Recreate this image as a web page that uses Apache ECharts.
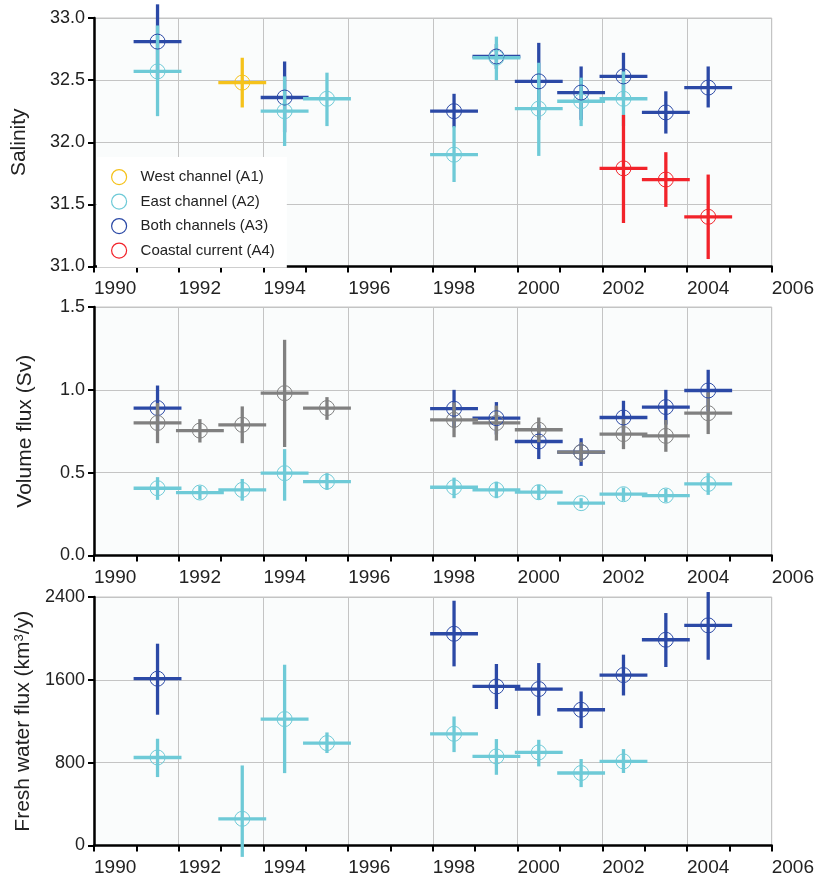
<!DOCTYPE html>
<html><head><meta charset="utf-8">
<script src="https://cdn.jsdelivr.net/npm/echarts@6/dist/echarts.min.js"></script>
<style>html,body{margin:0;padding:0;background:#fff}#c{width:817px;height:878px}</style>
</head><body><div id="c"></div>
<script>
// ---------- data (year of each estimate, value, lower and upper bound) ----------
const xTickYears = [1990, 2006];
const salinityTicks = [31.0, 33.0];
const volumeTicks = [0.0, 1.5];
const freshTicks = [0, 2400];

const salA1Years = [1993];
const salA1Vals  = [32.48];
const salA1Lo    = [32.28];
const salA1Hi    = [32.68];

const salA2Years = [1991, 1994, 1995, 1998, 1999, 2000, 2001, 2002];
const salA2Vals  = [32.57, 32.25, 32.35, 31.90, 32.68, 32.27, 32.33, 32.35];
const salA2Lo    = [32.21, 31.97, 32.13, 31.68, 32.50, 31.89, 32.13, 32.13];
const salA2Hi    = [32.94, 32.53, 32.56, 32.13, 32.85, 32.64, 32.52, 32.57];

const salA3Years = [1991, 1994, 1998, 1999, 2000, 2001, 2002, 2003, 2004];
const salA3Vals  = [32.81, 32.36, 32.25, 32.69, 32.49, 32.40, 32.53, 32.24, 32.44];
const salA3Lo    = [32.51, 32.08, 32.12, 32.59, 32.18, 32.18, 32.35, 32.07, 32.28];
const salA3Hi    = [33.11, 32.65, 32.39, 32.79, 32.80, 32.61, 32.72, 32.41, 32.61];

const salA4Years = [2002, 2003, 2004];
const salA4Vals  = [31.79, 31.70, 31.40];
const salA4Lo    = [31.35, 31.48, 31.06];
const salA4Hi    = [32.22, 31.92, 31.74];

const volA3Years = [1991, 1998, 1999, 2000, 2001, 2002, 2003, 2004];
const volA3Vals  = [0.890, 0.886, 0.829, 0.688, 0.624, 0.833, 0.896, 0.996];
const volA3Lo    = [0.755, 0.770, 0.730, 0.582, 0.541, 0.730, 0.790, 0.870];
const volA3Hi    = [1.026, 1.000, 0.926, 0.790, 0.708, 0.934, 1.000, 1.121];

const volGrYears = [1991, 1992, 1993, 1994, 1995, 1998, 1999, 2000, 2001, 2002, 2003, 2004];
const volGrVals  = [0.800, 0.754, 0.789, 0.980, 0.890, 0.819, 0.800, 0.759, 0.624, 0.733, 0.722, 0.859];
const volGrLo    = [0.678, 0.682, 0.678, 0.655, 0.819, 0.714, 0.694, 0.684, 0.565, 0.642, 0.626, 0.733];
const volGrHi    = [0.920, 0.823, 0.900, 1.302, 0.956, 0.924, 0.905, 0.833, 0.684, 0.824, 0.818, 0.985];

const volA2Years = [1991, 1992, 1993, 1994, 1995, 1998, 1999, 2000, 2001, 2002, 2003, 2004];
const volA2Vals  = [0.406, 0.380, 0.396, 0.497, 0.446, 0.412, 0.396, 0.382, 0.316, 0.370, 0.362, 0.432];
const volA2Lo    = [0.336, 0.340, 0.331, 0.331, 0.396, 0.346, 0.346, 0.337, 0.286, 0.330, 0.322, 0.366];
const volA2Hi    = [0.473, 0.420, 0.462, 0.642, 0.497, 0.470, 0.446, 0.427, 0.346, 0.410, 0.402, 0.497];

const fwA3Years = [1991, 1998, 1999, 2000, 2001, 2002, 2003, 2004];
const fwA3Vals  = [1611, 2045, 1536, 1511, 1311, 1646, 1987, 2126];
const fwA3Lo    = [1263, 1730, 1318, 1253, 1134, 1449, 1724, 1794];
const fwA3Hi    = [1949, 2364, 1753, 1762, 1488, 1843, 2245, 2448];

const fwA2Years = [1991, 1993, 1994, 1995, 1998, 1999, 2000, 2001, 2002];
const fwA2Vals  = [850, 258, 1221, 989, 1079, 860, 899, 700, 812];
const fwA2Lo    = [661, -110, 699, 893, 902, 683, 764, 564, 700];
const fwA2Hi    = [1031, 773, 1746, 1092, 1246, 1028, 1021, 835, 931];

const NAMES = ['West channel (A1)', 'East channel (A2)', 'Both channels (A3)', 'Coastal current (A4)'];

// ---------- styling ----------
const FONT = "'Liberation Sans', Arial, sans-serif";
const C_A1 = '#F5C21B', C_A2 = '#6ECAD7', C_A3 = '#2B49A6', C_A4 = '#F2232A', C_GR = '#808080';
const HALF = 0.565;   // half-width of the horizontal bar, in years
const LW = 3.3;

function cross(name, color, years, vals, lo, hi, gi) {
  const data = years.map((y, i) => [y + 0.5, vals[i], lo[i], hi[i]]);
  return {
    type: 'custom', name, xAxisIndex: gi, yAxisIndex: gi, z: 2, silent: true,
    encode: { x: 0, y: [1, 2, 3] }, data,
    renderItem: (params, api) => {
      const x = api.value(0), v = api.value(1), l = api.value(2), h = api.value(3);
      const c = api.coord([x, v]);
      const a = api.coord([x - HALF, v]);
      const b = api.coord([x + HALF, v]);
      const pl = api.coord([x, l]);
      const ph = api.coord([x, h]);
      return { type: 'group', children: [
        { type: 'line', shape: { x1: a[0], y1: c[1], x2: b[0], y2: c[1] }, style: { stroke: color, lineWidth: LW } },
        { type: 'line', shape: { x1: c[0], y1: pl[1], x2: c[0], y2: ph[1] }, style: { stroke: color, lineWidth: LW } }
      ]};
    }
  };
}
function circles(name, color, years, vals, gi) {
  return {
    type: 'scatter', name, xAxisIndex: gi, yAxisIndex: gi, z: 5, silent: true,
    symbol: 'circle', symbolSize: 15,
    itemStyle: { color: 'rgba(0,0,0,0)', borderColor: color, borderWidth: 1, opacity: 1 },
    data: years.map((y, i) => [y + 0.5, vals[i]])
  };
}
function both(name, color, years, vals, lo, hi, gi) {
  return [cross(name, color, years, vals, lo, hi, gi), circles(name, color, years, vals, gi)];
}

const tops = [18, 307, 597];
const grids = tops.map(t => ({ left: 94, width: 679, top: t, height: 248.5, show: true,
  backgroundColor: '#fafcfc', borderColor: '#c4c4c4', borderWidth: 1 }));

const xAxes = tops.map((t, i) => ({
  type: 'value', gridIndex: i, min: xTickYears[0], max: xTickYears[1], interval: 2,
  axisLine: { show: true, onZero: false, lineStyle: { color: '#000', width: 2.5 } },
  axisTick: { show: true, length: 6, lineStyle: { color: '#000', width: 2 } },
  minorTick: { show: true, splitNumber: 2, length: 6, lineStyle: { color: '#000', width: 2 } },
  splitLine: { show: true, lineStyle: { color: '#c4c4c4', width: 1 } },
  axisLabel: { show: true, align: 'left', margin: 13, fontSize: 19, color: '#222', fontFamily: FONT,
    showMinLabel: true, showMaxLabel: true, formatter: v => String(v) }
}));

function yAx(i, ticks, interval, fmt, name, gap, rich) {
  return {
    type: 'value', gridIndex: i, min: ticks[0], max: ticks[1], interval,
    name, nameLocation: 'middle', nameGap: gap,
    nameTextStyle: { fontSize: 21, color: '#222', fontFamily: FONT, rich: rich || {} },
    axisLine: { show: true, onZero: false, lineStyle: { color: '#000', width: 2.5 } },
    axisTick: { show: true, length: 6, lineStyle: { color: '#000', width: 2 } },
    splitLine: { show: true, lineStyle: { color: '#c4c4c4', width: 1 } },
    axisLabel: { margin: 9, fontSize: 18, color: '#222', fontFamily: FONT, formatter: fmt }
  };
}
const yAxes = [
  yAx(0, salinityTicks, 0.5, v => v.toFixed(1), 'Salinity', 64),
  yAx(1, volumeTicks, 0.5, v => v.toFixed(1), 'Volume flux (Sv)', 58),
  yAx(2, freshTicks, 800, v => String(v), 'Fresh water flux (km{sup|3}/y)', 59,
      { sup: { fontSize: 13, color: '#222', fontFamily: FONT, padding: [0, 0, 8, 0] } })
];

const series = [].concat(
  both(NAMES[0], C_A1, salA1Years, salA1Vals, salA1Lo, salA1Hi, 0),
  both(NAMES[2], C_A3, salA3Years, salA3Vals, salA3Lo, salA3Hi, 0),
  both(NAMES[1], C_A2, salA2Years, salA2Vals, salA2Lo, salA2Hi, 0),
  both(NAMES[3], C_A4, salA4Years, salA4Vals, salA4Lo, salA4Hi, 0),
  both(NAMES[2], C_A3, volA3Years, volA3Vals, volA3Lo, volA3Hi, 1),
  both('Volume (gray)', C_GR, volGrYears, volGrVals, volGrLo, volGrHi, 1),
  both(NAMES[1], C_A2, volA2Years, volA2Vals, volA2Lo, volA2Hi, 1),
  both(NAMES[2], C_A3, fwA3Years, fwA3Vals, fwA3Lo, fwA3Hi, 2),
  both(NAMES[1], C_A2, fwA2Years, fwA2Vals, fwA2Lo, fwA2Hi, 2)
);

const legendColors = [C_A1, C_A2, C_A3, C_A4];
const chart = echarts.init(document.getElementById('c'));
chart.setOption({
  animation: false,
  backgroundColor: '#fff',
  grid: grids, xAxis: xAxes, yAxis: yAxes,
  legend: {
    left: 97, top: 157, orient: 'vertical', backgroundColor: '#fff',
    padding: [12, 12, 9, 14], itemWidth: 15, itemHeight: 15, itemGap: 8.3,
    selectedMode: false, z: 10,
    textStyle: { fontSize: 15, color: '#222', fontFamily: FONT, padding: [0, 0, 0, 9] },
    data: NAMES.map((n, i) => ({ name: n, icon: 'circle',
      itemStyle: { color: 'rgba(0,0,0,0)', borderColor: legendColors[i], borderWidth: 1.2 } }))
  },
  series
});
</script></body></html>
